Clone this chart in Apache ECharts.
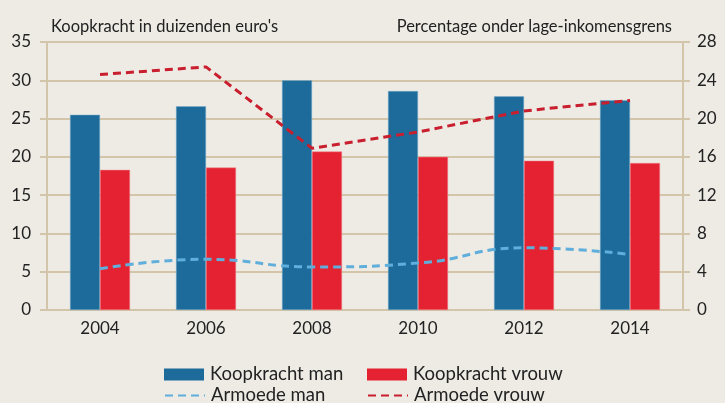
<!DOCTYPE html>
<html>
<head>
<meta charset="utf-8">
<script src="https://cdn.jsdelivr.net/npm/echarts@6/dist/echarts.min.js"></script>
<style>
  html, body { margin: 0; padding: 0; background: #eeebe5; }
  #chart { width: 725px; height: 403px; }
</style>
</head>
<body>
<div id="chart"></div>
<script>
// data
const years = ['2004', '2006', '2008', '2010', '2012', '2014'];
const koopkrachtMan = [25.5, 26.6, 30.0, 28.6, 27.9, 27.4];
const koopkrachtVrouw = [18.3, 18.6, 20.7, 20.0, 19.5, 19.2];
const armoedeMan = [4.3, 5.3, 4.5, 4.9, 6.5, 5.8];
const armoedeVrouw = [24.6, 25.4, 16.9, 18.6, 20.8, 21.9];

const tan = '#d3c5aa';
const txt = '#222222';
const font = 'Lato';

const myChart = echarts.init(document.getElementById('chart'));

// legend per item, so the two rows line up
function legendItem(name, left, top, isLine) {
  return {
    data: [name],
    left: left,
    top: top,
    itemWidth: 40,
    itemHeight: 12,
    padding: 0,
    itemGap: 0,
    icon: isLine ? undefined : 'rect',
    itemStyle: isLine ? { opacity: 0 } : { borderWidth: 0 },
    textStyle: { fontFamily: font, fontSize: 18.5, color: txt, padding: [0, 0, 0, 1] }
  };
}

myChart.setOption({
  backgroundColor: '#eeebe5',
  textStyle: { fontFamily: font },
  title: [
    {
      text: "Koopkracht in duizenden euro's",
      left: 46, top: 13,
      textStyle: { fontFamily: font, fontSize: 16.5, fontWeight: 'normal', color: txt }
    },
    {
      text: 'Percentage onder lage-inkomensgrens',
      right: 48, top: 13,
      textStyle: { fontFamily: font, fontSize: 16.5, fontWeight: 'normal', color: txt }
    }
  ],
  legend: [
    legendItem('Koopkracht man', 164, 365, false),
    legendItem('Koopkracht vrouw', 367, 365, false),
    legendItem('Armoede man', 164, 386, true),
    legendItem('Armoede vrouw', 367, 386, true)
  ],
  grid: { left: 47, right: 42, top: 42, bottom: 93 },
  xAxis: {
    type: 'category',
    data: years,
    axisLine: { lineStyle: { color: tan, width: 2 } },
    axisTick: { length: 7, lineStyle: { color: tan, width: 2 } },
    axisLabel: { color: txt, fontFamily: font, fontSize: 17, margin: 10 }
  },
  yAxis: [
    {
      type: 'value', min: 0, max: 35, interval: 5,
      axisLine: { show: true, lineStyle: { color: tan, width: 2 } },
      axisTick: { show: true, length: 7, lineStyle: { color: tan, width: 2 } },
      splitLine: { lineStyle: { color: tan, width: 2 } },
      axisLabel: { color: txt, fontFamily: font, fontSize: 17, margin: 16 }
    },
    {
      type: 'value', min: 0, max: 28, interval: 4,
      axisLine: { show: true, lineStyle: { color: tan, width: 2 } },
      axisTick: { show: true, length: 7, lineStyle: { color: tan, width: 2 } },
      splitLine: { show: false },
      axisLabel: { color: txt, fontFamily: font, fontSize: 17, margin: 14 }
    }
  ],
  series: [
    {
      name: 'Koopkracht man', type: 'bar', data: koopkrachtMan,
      barWidth: 30, barGap: '0%',
      itemStyle: { color: '#1c6b9b', borderColor: '#7fb0cf', borderWidth: 0.5 }
    },
    {
      name: 'Koopkracht vrouw', type: 'bar', data: koopkrachtVrouw,
      barWidth: 30, barGap: '0%',
      itemStyle: { color: '#e52231', borderColor: '#f08a90', borderWidth: 0.5 }
    },
    {
      name: 'Armoede man', type: 'line', yAxisIndex: 1, data: armoedeMan,
      smooth: true, symbol: 'none',
      itemStyle: { color: '#5faedb' },
      lineStyle: { color: '#5faedb', width: 3, type: [8, 5] }
    },
    {
      name: 'Armoede vrouw', type: 'line', yAxisIndex: 1, data: armoedeVrouw,
      symbol: 'none',
      itemStyle: { color: '#c81e2e' },
      lineStyle: { color: '#c81e2e', width: 3, type: [8, 5] }
    }
  ]
});
</script>
</body>
</html>
